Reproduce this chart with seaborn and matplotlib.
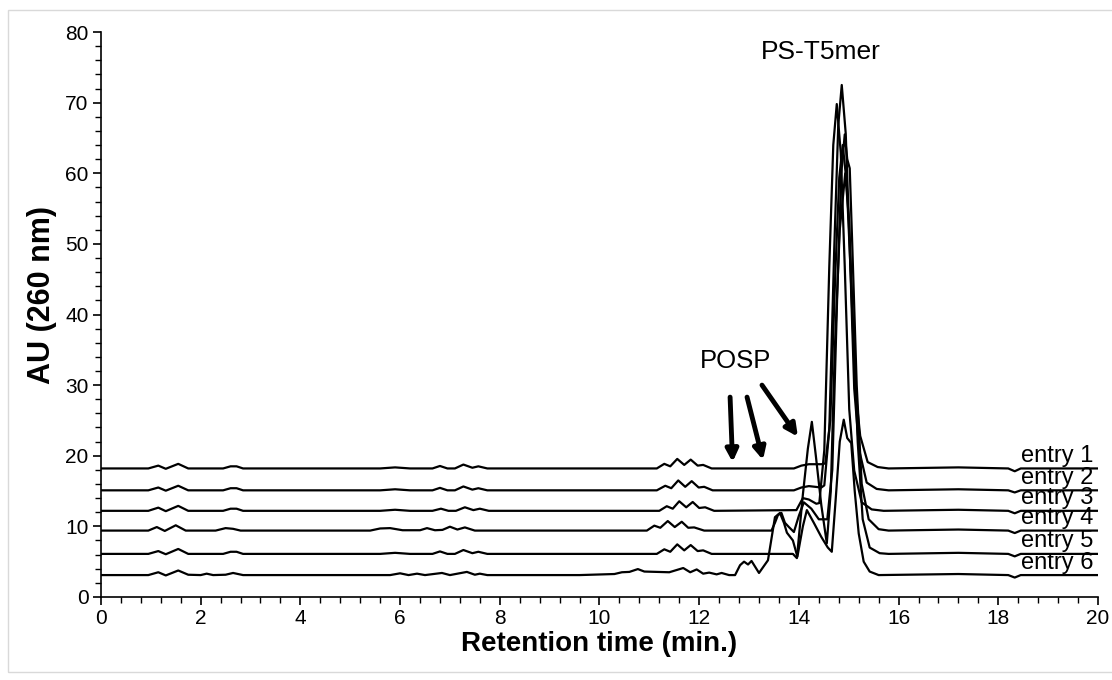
import matplotlib
matplotlib.use("Agg")
import matplotlib.pyplot as plt
from matplotlib.patches import Rectangle
from matplotlib.ticker import MultipleLocator
import pandas as pd
import seaborn as sns

# HPLC traces: (retention time in min, AU), stacked with offsets
entry1 = [(0, 18.2), (0.95, 18.2), (1.15, 18.6), (1.3, 18.15), (1.55, 18.85), (1.75, 18.2), (2.45, 18.2),
          (2.6, 18.5), (2.72, 18.5), (2.85, 18.2), (5.6, 18.2), (5.9, 18.35), (6.2, 18.2), (6.65, 18.2),
          (6.8, 18.55), (6.95, 18.2), (7.1, 18.2), (7.27, 18.75), (7.45, 18.3), (7.57, 18.5), (7.75, 18.2),
          (11.15, 18.2), (11.3, 18.85), (11.42, 18.5), (11.56, 19.55), (11.7, 18.7), (11.83, 19.45),
          (11.97, 18.6), (12.08, 18.7), (12.25, 18.2), (13.9, 18.2), (14.05, 18.6), (14.2, 18.8),
          (14.45, 18.8), (14.53, 18.9), (14.63, 25), (14.73, 45.7), (14.81, 59.4), (14.88, 64),
          (14.96, 58.5), (15.04, 45.7), (15.13, 29.7), (15.23, 22.8), (15.38, 19.1), (15.58, 18.4),
          (15.8, 18.2), (17.2, 18.35), (18.2, 18.2), (18.33, 17.8), (18.45, 18.2), (20, 18.2)]
entry2 = [(0, 15.1), (0.95, 15.1), (1.15, 15.5), (1.3, 15.05), (1.55, 15.75), (1.75, 15.1), (2.45, 15.1),
          (2.6, 15.4), (2.72, 15.4), (2.85, 15.1), (5.6, 15.1), (5.9, 15.25), (6.2, 15.1), (6.65, 15.1),
          (6.8, 15.45), (6.95, 15.1), (7.1, 15.1), (7.27, 15.65), (7.45, 15.2), (7.57, 15.4), (7.75, 15.1),
          (11.15, 15.1), (11.32, 15.75), (11.44, 15.4), (11.58, 16.5), (11.72, 15.6), (11.85, 16.4),
          (11.99, 15.5), (12.1, 15.6), (12.27, 15.1), (13.9, 15.1), (14.05, 15.5), (14.2, 15.7),
          (14.45, 15.5), (14.51, 15.8), (14.61, 23.7), (14.71, 49.5), (14.79, 66.8), (14.86, 72.5),
          (14.94, 65.6), (15.02, 49.5), (15.11, 29.5), (15.21, 20.8), (15.36, 16.2), (15.56, 15.3),
          (15.8, 15.1), (17.2, 15.25), (18.2, 15.1), (18.33, 14.8), (18.45, 15.1), (20, 15.1)]
entry3 = [(0, 12.2), (0.95, 12.2), (1.15, 12.65), (1.3, 12.15), (1.55, 12.9), (1.75, 12.2), (2.45, 12.2),
          (2.6, 12.5), (2.72, 12.5), (2.85, 12.2), (5.6, 12.2), (5.9, 12.35), (6.2, 12.2), (6.65, 12.2),
          (6.82, 12.5), (6.97, 12.2), (7.12, 12.2), (7.3, 12.7), (7.47, 12.3), (7.6, 12.5), (7.78, 12.2),
          (11.2, 12.2), (11.35, 12.85), (11.47, 12.5), (11.6, 13.55), (11.74, 12.7), (11.87, 13.45),
          (12.0, 12.6), (12.12, 12.7), (12.3, 12.2), (13.95, 12.3), (14.08, 14.0), (14.2, 13.8),
          (14.35, 13.2), (14.41, 13.3), (14.51, 20.8), (14.61, 46.8), (14.69, 64), (14.76, 69.8),
          (14.84, 62.9), (14.92, 46.8), (15.01, 26.6), (15.11, 17.9), (15.26, 13.4), (15.46, 12.4),
          (15.7, 12.2), (17.2, 12.35), (18.2, 12.2), (18.33, 11.85), (18.45, 12.2), (20, 12.2)]
entry4 = [(0, 9.4), (0.95, 9.4), (1.12, 9.9), (1.28, 9.35), (1.5, 10.15), (1.7, 9.4), (2.3, 9.4),
          (2.5, 9.75), (2.65, 9.65), (2.8, 9.4), (5.4, 9.4), (5.6, 9.7), (5.8, 9.75), (6.05, 9.45),
          (6.4, 9.45), (6.54, 9.75), (6.7, 9.45), (6.85, 9.5), (7.0, 9.95), (7.15, 9.55), (7.3, 9.85),
          (7.5, 9.4), (10.95, 9.4), (11.1, 10.1), (11.22, 9.8), (11.37, 10.75), (11.51, 9.9),
          (11.65, 10.65), (11.78, 9.8), (11.9, 9.85), (12.1, 9.4), (13.45, 9.4), (13.52, 10.5),
          (13.58, 11.6), (13.65, 11.9), (13.72, 10.5), (13.8, 9.9), (13.9, 9.2), (14.0, 11.5),
          (14.1, 13.4), (14.25, 12.5), (14.4, 11.0), (14.57, 11), (14.67, 18), (14.77, 43), (14.85, 60),
          (14.92, 65.5), (14.97, 62), (15.02, 60.7), (15.07, 50), (15.16, 30), (15.26, 16), (15.4, 11),
          (15.6, 9.6), (15.8, 9.4), (17.2, 9.55), (18.2, 9.4), (18.33, 9.05), (18.45, 9.4), (20, 9.4)]
entry5 = [(0, 6.1), (0.95, 6.1), (1.15, 6.5), (1.3, 6.05), (1.55, 6.8), (1.75, 6.1), (2.45, 6.1),
          (2.6, 6.4), (2.72, 6.4), (2.85, 6.1), (5.6, 6.1), (5.9, 6.25), (6.2, 6.1), (6.65, 6.1),
          (6.8, 6.45), (6.95, 6.1), (7.1, 6.1), (7.27, 6.65), (7.45, 6.2), (7.57, 6.4), (7.75, 6.1),
          (11.15, 6.1), (11.3, 6.75), (11.42, 6.4), (11.56, 7.45), (11.7, 6.6), (11.83, 7.35),
          (11.97, 6.5), (12.08, 6.6), (12.25, 6.1), (13.88, 6.1), (13.96, 5.5), (14.08, 14.5),
          (14.18, 21), (14.26, 24.8), (14.34, 20), (14.45, 13), (14.56, 7.6), (14.64, 15), (14.72, 35),
          (14.82, 52), (14.93, 60), (15.01, 53), (15.09, 38), (15.18, 22), (15.28, 11), (15.42, 7),
          (15.62, 6.2), (15.8, 6.1), (17.2, 6.25), (18.2, 6.1), (18.33, 5.75), (18.45, 6.1), (20, 6.1)]
entry6 = [(0, 3.1), (0.95, 3.1), (1.15, 3.5), (1.3, 3.05), (1.55, 3.75), (1.75, 3.15), (2.0, 3.1),
          (2.12, 3.3), (2.25, 3.1), (2.5, 3.15), (2.65, 3.4), (2.85, 3.1), (5.8, 3.1), (6.0, 3.35),
          (6.17, 3.1), (6.34, 3.3), (6.5, 3.1), (6.84, 3.4), (7.0, 3.1), (7.34, 3.55), (7.5, 3.15),
          (7.6, 3.3), (7.75, 3.1), (9.6, 3.1), (10.3, 3.25), (10.45, 3.5), (10.6, 3.55), (10.77, 3.95),
          (10.9, 3.6), (11.4, 3.5), (11.68, 4.1), (11.82, 3.5), (11.95, 3.9), (12.08, 3.3), (12.2, 3.45),
          (12.35, 3.2), (12.45, 3.4), (12.6, 3.1), (12.72, 3.1), (12.82, 4.5), (12.9, 5.0), (12.98, 4.6),
          (13.05, 5.1), (13.2, 3.4), (13.38, 5.2), (13.52, 11.3), (13.62, 11.9), (13.7, 10.5),
          (13.76, 9.1), (13.88, 8.0), (13.97, 5.7), (14.08, 10), (14.16, 12.3), (14.3, 10.5),
          (14.45, 8.5), (14.58, 7), (14.66, 6.4), (14.74, 14), (14.82, 22), (14.9, 25.1), (14.97, 22.5),
          (15.05, 21.8), (15.12, 15), (15.2, 9), (15.3, 5), (15.42, 3.6), (15.6, 3.1), (17.2, 3.25),
          (18.2, 3.1), (18.33, 2.75), (18.45, 3.1), (20, 3.1)]

entry_names = ["entry 1", "entry 2", "entry 3", "entry 4", "entry 5", "entry 6"]
traces = [entry1, entry2, entry3, entry4, entry5, entry6]
label_y = [18.4, 15.3, 12.4, 9.6, 6.3, 3.3]

rows = []
for name, trace in zip(entry_names, traces):
    for t, au in trace:
        rows.append({"entry": name, "time": t, "au": au})
df = pd.DataFrame(rows)

sns.set_theme(style="ticks")
plt.rcParams["font.family"] = ["Liberation Sans", "DejaVu Sans"]

fig = plt.figure(figsize=(11.12, 6.8), dpi=100)
ax = fig.add_axes([0.0908, 0.1221, 0.8966, 0.8308])

sns.lineplot(data=df, x="time", y="au", units="entry", estimator=None, sort=False,
             color="black", lw=1.6, ax=ax, legend=False)

ax.set_xlim(0, 20)
ax.set_ylim(0, 80)
ax.xaxis.set_major_locator(MultipleLocator(2))
ax.xaxis.set_minor_locator(MultipleLocator(0.4))
ax.yaxis.set_major_locator(MultipleLocator(10))
ax.yaxis.set_minor_locator(MultipleLocator(2))
ax.tick_params(which="major", direction="out", length=6, width=1.2, color="black",
               labelsize=15, labelcolor="black", pad=3)
ax.tick_params(which="minor", direction="out", length=4, width=1.0, color="black")
for s in ["top", "right"]:
    ax.spines[s].set_visible(False)
for s in ["left", "bottom"]:
    ax.spines[s].set_color("black")
    ax.spines[s].set_linewidth(1.2)

ax.set_xlabel("Retention time (min.)", fontsize=20, fontweight="bold", color="black")
ax.set_ylabel("AU (260 nm)", fontsize=22, fontweight="bold", color="black")
ax.xaxis.set_label_coords(0.5, -0.06)
ax.yaxis.set_label_coords(-0.044, 0.535)

for name, y in zip(entry_names, label_y):
    ax.text(19.9, y, name, ha="right", va="bottom", fontsize=17, color="black")

ax.text(14.44, 77.2, "PS-T5mer", ha="center", va="center", fontsize=19, color="black")
ax.text(12.72, 33.4, "POSP", ha="center", va="center", fontsize=18.5, color="black")

arrows = [((12.62, 28.3), (12.67, 19.1)), ((12.96, 28.3), (13.28, 19.4)), ((13.26, 30.0), (13.98, 22.7))]
for start, end in arrows:
    ax.annotate("", xy=end, xytext=start,
                arrowprops=dict(arrowstyle="-|>,head_length=0.6,head_width=0.3", lw=3.5,
                                color="black", shrinkA=0, shrinkB=0))

fig.patches.append(Rectangle((0.007, 0.012), 1.0, 0.974, transform=fig.transFigure,
                             fill=False, edgecolor="#d9d9d9", lw=1))

fig.savefig("out.png", dpi=100)
